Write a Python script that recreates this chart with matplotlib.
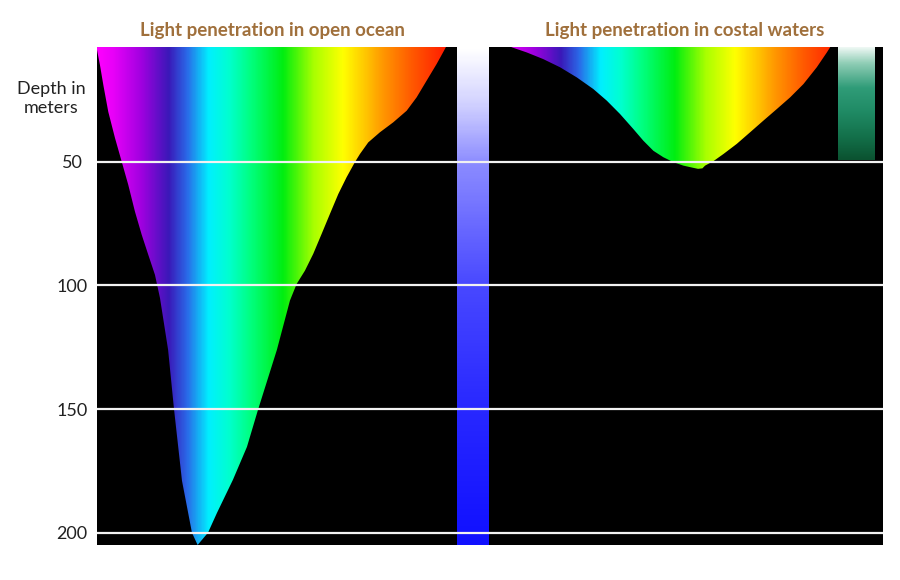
import numpy as np
import matplotlib
matplotlib.use('Agg')
import matplotlib.pyplot as plt
from matplotlib.colors import LinearSegmentedColormap, Normalize
from matplotlib.patches import Polygon

plt.rcParams['font.family'] = ['Lato', 'DejaVu Sans']

# depth axis
depth_ticks = [50, 100, 150, 200]
depth_top, depth_bottom = 3.5, 205

# open ocean: edges of the light cone (wavelength, nm) vs depth (m)
open_left_depth = [0, 4.0, 10.8, 18.9, 29.7, 40.4, 49.9, 59.3, 70.1, 79.5, 87.6, 95.7,
                   105.1, 126, 150, 179, 200, 205]
open_left_nm = [379, 379.7, 382.7, 385.8, 390.3, 396.5, 402.6, 408.6, 414.7, 420.9, 426.9,
                433.0, 437.6, 445, 450.4, 457.7, 466.8, 472]
open_right_depth = [0, 4.3, 10.4, 17.1, 23.9, 29.3, 34.0, 38.0, 42.1, 46.8, 50.1, 56.2,
                    63.0, 71.0, 79.1, 87.2, 94.0, 99.4, 106.1, 126, 150.3, 165.3, 178.6,
                    192, 200, 205]
open_right_nm = [703, 698.1, 690.5, 681.4, 672.2, 663.1, 650.8, 638.7, 628.0, 620.4, 615.8,
                 608.2, 600.6, 593.0, 585.4, 577.7, 570.1, 562.5, 556.4, 544.5, 527.2,
                 517.1, 504.3, 489.7, 481.5, 472]

# coastal waters
coast_left_depth = [0, 3.6, 5.7, 8.4, 11.7, 15.8, 20.5, 25.2, 30.6, 36.7, 41.4, 45.5,
                    48.1, 50.1, 51.5, 52.4, 52.8]
coast_left_nm = [394, 400.7, 414.5, 429.6, 444.9, 460.2, 475.3, 487.6, 499.7, 511.9, 521.0,
                 530.2, 539.3, 548.5, 557.6, 566.7, 571.0]
coast_right_depth = [52.6, 51.5, 49.7, 46.8, 42.7, 38.0, 33.3, 28.6, 23.9, 18.5, 11.7, 5.7,
                     3.6, 0]
coast_right_nm = [575, 577.4, 585.0, 594.2, 606.4, 618.6, 630.7, 643.0, 655.1, 667.3, 679.5,
                  688.7, 691.7, 694]

# spectrum colour stops
spec_nm = [380, 395, 420, 445, 462, 482, 500, 520, 550, 578, 605, 625, 642, 668, 700]
spec_colors = ['#ff00ff', '#e600f8', '#a000e0', '#3a18b8', '#2a6ae8', '#00f0ff', '#00ffd0',
               '#00ff80', '#00ee10', '#a8ff00', '#ffff00', '#ffc800', '#ff9600', '#ff5a00',
               '#ff1a00']

# resulting colour of the water column
open_bar_nm = (709, 738.4)
open_bar_depth = [3.5, 25, 50, 100, 150, 205]
open_bar_colors = ['#ffffff', '#d4d4ff', '#8c8cff', '#4848ff', '#2828ff', '#1010ff']
coast_bar_nm = (699, 732)
coast_bar_depth = [3.5, 10, 20, 30, 40, 49.2]
coast_bar_colors = ['#eef8f4', '#8fcdb5', '#2f9c78', '#1f8a64', '#13704a', '#0b5230']

title_color = '#a0703c'


def stops_cmap(name, pos, colors):
    pos = np.asarray(pos, dtype=float)
    frac = (pos - pos[0]) / (pos[-1] - pos[0])
    return LinearSegmentedColormap.from_list(name, list(zip(frac, colors)))


spec_cmap = stops_cmap('spec', spec_nm, spec_colors)


def draw_cone(ax, l_depth, l_nm, r_depth, r_nm):
    left = list(zip(l_nm, l_depth))
    right = list(zip(r_nm, r_depth))
    if r_depth[0] < r_depth[-1]:
        right = right[::-1]
    poly = Polygon(left + right, closed=True, facecolor='none', edgecolor='none')
    ax.add_patch(poly)
    grad = np.linspace(375, 705, 600).reshape(1, -1)
    im = ax.imshow(grad, cmap=spec_cmap, norm=Normalize(spec_nm[0], spec_nm[-1]),
                   extent=[375, 705, depth_bottom, 0], aspect='auto',
                   interpolation='bilinear', zorder=2)
    im.set_clip_path(poly)


def draw_bar(ax, nm_range, depths, colors):
    cmap = stops_cmap('bar', depths, colors)
    grad = np.linspace(depths[0], depths[-1], 300).reshape(-1, 1)
    ax.imshow(grad, cmap=cmap, norm=Normalize(depths[0], depths[-1]),
              extent=[nm_range[0], nm_range[1], depths[-1], depths[0]],
              aspect='auto', interpolation='bilinear', zorder=2)


fig = plt.figure(figsize=(9, 5.8), dpi=100)
fig.patch.set_facecolor('white')
bottom = 35 / 580
height = 498 / 580
ax1 = fig.add_axes([97 / 900, bottom, 392 / 900, height])
ax2 = fig.add_axes([489 / 900, bottom, 394 / 900, height])

for ax in (ax1, ax2):
    ax.set_facecolor('black')
    for s in ax.spines.values():
        s.set_visible(False)
    ax.set_xticks([])

draw_cone(ax1, open_left_depth, open_left_nm, open_right_depth, open_right_nm)
draw_bar(ax1, open_bar_nm, open_bar_depth, open_bar_colors)
draw_cone(ax2, coast_left_depth, coast_left_nm, coast_right_depth, coast_right_nm)
draw_bar(ax2, coast_bar_nm, coast_bar_depth, coast_bar_colors)

for ax, xmax in [(ax1, 738.4), (ax2, 740)]:
    ax.set_xlim(380, xmax)
    ax.set_ylim(depth_bottom, depth_top)
    for d in depth_ticks:
        ax.axhline(d, color='#f2f2f2', lw=1.6, zorder=5)

ax1.set_yticks(depth_ticks)
ax1.set_yticklabels([str(d) for d in depth_ticks], fontsize=13, color='#222222')
ax1.tick_params(axis='y', length=0, pad=18)
for lab in ax1.get_yticklabels():
    lab.set_horizontalalignment('center')
ax2.set_yticks([])

fig.text(51 / 900, 1 - 98.5 / 580, 'Depth in\nmeters', ha='center', va='center',
         fontsize=13, color='#222222', linespacing=1.3)
fig.text(272 / 900, 1 - 30.5 / 580, 'Light penetration in open ocean', ha='center',
         va='center', fontsize=13.5, fontweight='bold', color=title_color)
fig.text(685 / 900, 1 - 30.5 / 580, 'Light penetration in costal waters', ha='center',
         va='center', fontsize=13.5, fontweight='bold', color=title_color)

fig.savefig('out.png', dpi=100, facecolor='white')
